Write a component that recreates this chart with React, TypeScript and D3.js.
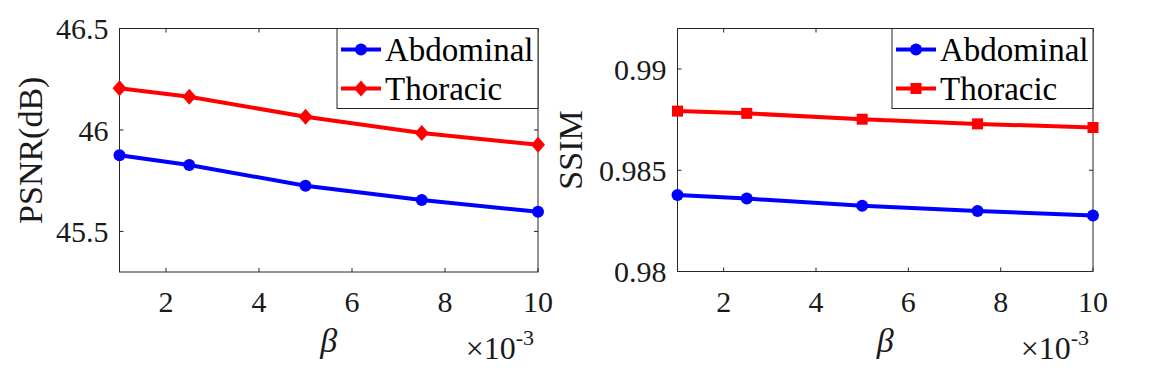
import React, { useEffect, useRef } from "react";
import * as d3 from "d3";

// beta values (x10^-3)
const betaValues = [1, 2.5, 5, 7.5, 10];
const xTicks = [2, 4, 6, 8, 10];

const psnrAbdominal = [45.875, 45.827, 45.725, 45.655, 45.597];
const psnrThoracic = [46.205, 46.164, 46.065, 45.985, 45.927];
const psnrTicks = [45.5, 46, 46.5];

const ssimAbdominal = [0.98378, 0.9836, 0.98325, 0.98299, 0.98276];
const ssimThoracic = [0.98792, 0.98781, 0.98752, 0.98729, 0.98711];
const ssimTicks = [0.98, 0.985, 0.99];

const seriesNames = ["Abdominal", "Thoracic"];

const FONT = "'Liberation Serif', 'Times New Roman', serif";
const AXIS_COLOR = "#262626";

type Panel = {
  left: number;
  right: number;
  top: number;
  bottom: number;
  yDomain: [number, number];
  yTicks: number[];
  yLabel: string;
  yLabelX: number;
  abdominal: number[];
  thoracic: number[];
  thoracicMarker: "diamond" | "square";
};

const panels: Panel[] = [
  {
    left: 119.5,
    right: 538,
    top: 28.5,
    bottom: 272,
    yDomain: [45.3, 46.5],
    yTicks: psnrTicks,
    yLabel: "PSNR(dB)",
    yLabelX: 42,
    abdominal: psnrAbdominal,
    thoracic: psnrThoracic,
    thoracicMarker: "diamond",
  },
  {
    left: 677.5,
    right: 1093,
    top: 28.5,
    bottom: 271.5,
    yDomain: [0.98, 0.992],
    yTicks: ssimTicks,
    yLabel: "SSIM",
    yLabelX: 582,
    abdominal: ssimAbdominal,
    thoracic: ssimThoracic,
    thoracicMarker: "square",
  },
];

export default function App() {
  const svgRef = useRef<SVGSVGElement>(null);

  useEffect(() => {
    const svg = d3.select(svgRef.current);
    svg.selectAll("*").remove();
    panels.forEach((p) => drawPanel(svg, p));
  }, []);

  const drawMarker = (g: any, kind: string, x: number, y: number, color: string) => {
    if (kind === "circle") {
      g.append("circle").attr("cx", x).attr("cy", y).attr("r", 6).attr("fill", color);
    } else if (kind === "diamond") {
      g.append("path")
        .attr("d", `M${x},${y - 8}L${x + 7},${y}L${x},${y + 8}L${x - 7},${y}Z`)
        .attr("fill", color);
    } else {
      g.append("rect")
        .attr("x", x - 5.5)
        .attr("y", y - 5.5)
        .attr("width", 11)
        .attr("height", 11)
        .attr("fill", color);
    }
  };

  const drawPanel = (svg: any, p: Panel) => {
    const xScale = d3.scaleLinear().domain([1, 10]).range([p.left, p.right]);
    const yScale = d3.scaleLinear().domain(p.yDomain).range([p.bottom, p.top]);
    const g = svg.append("g");

    // box
    g.append("rect")
      .attr("x", p.left)
      .attr("y", p.top)
      .attr("width", p.right - p.left)
      .attr("height", p.bottom - p.top)
      .attr("fill", "white")
      .attr("stroke", AXIS_COLOR)
      .attr("stroke-width", 1);

    // x ticks (inside, top and bottom)
    xTicks.forEach((t) => {
      const x = xScale(t);
      g.append("line").attr("x1", x).attr("x2", x).attr("y1", p.bottom).attr("y2", p.bottom - 4).attr("stroke", AXIS_COLOR);
      g.append("line").attr("x1", x).attr("x2", x).attr("y1", p.top).attr("y2", p.top + 4).attr("stroke", AXIS_COLOR);
      g.append("text")
        .attr("x", x)
        .attr("y", 312)
        .attr("text-anchor", "middle")
        .attr("font-family", FONT)
        .attr("font-size", 30)
        .attr("fill", "#1a1a1a")
        .text(String(t));
    });

    // y ticks
    p.yTicks.forEach((t) => {
      const y = yScale(t);
      g.append("line").attr("x1", p.left).attr("x2", p.left + 4).attr("y1", y).attr("y2", y).attr("stroke", AXIS_COLOR);
      g.append("line").attr("x1", p.right).attr("x2", p.right - 4).attr("y1", y).attr("y2", y).attr("stroke", AXIS_COLOR);
      g.append("text")
        .attr("x", p.left - 11)
        .attr("y", y)
        .attr("dy", "0.36em")
        .attr("text-anchor", "end")
        .attr("font-family", FONT)
        .attr("font-size", 30)
        .attr("fill", "#1a1a1a")
        .text(String(t));
    });

    // lines
    const series = [
      { values: p.abdominal, color: "#0000ff", marker: "circle" },
      { values: p.thoracic, color: "#ff0000", marker: p.thoracicMarker },
    ];
    series.forEach((s) => {
      const line = d3
        .line<number>()
        .x((_, i) => xScale(betaValues[i]))
        .y((d) => yScale(d));
      g.append("path")
        .attr("d", line(s.values))
        .attr("fill", "none")
        .attr("stroke", s.color)
        .attr("stroke-width", 4);
      s.values.forEach((v, i) => drawMarker(g, s.marker, xScale(betaValues[i]), yScale(v), s.color));
    });

    // legend
    const lgW = 201;
    const lgH = 80;
    const lgX = p.right - lgW;
    const lgY = p.top;
    g.append("rect")
      .attr("x", lgX)
      .attr("y", lgY)
      .attr("width", lgW)
      .attr("height", lgH)
      .attr("fill", "white")
      .attr("stroke", AXIS_COLOR)
      .attr("stroke-width", 1);
    series.forEach((s, i) => {
      const ry = lgY + 21 + i * 39;
      g.append("line")
        .attr("x1", lgX + 4)
        .attr("x2", lgX + 44)
        .attr("y1", ry)
        .attr("y2", ry)
        .attr("stroke", s.color)
        .attr("stroke-width", 4);
      drawMarker(g, s.marker, lgX + 24, ry, s.color);
      g.append("text")
        .attr("x", lgX + 48)
        .attr("y", ry)
        .attr("dy", "0.35em")
        .attr("font-family", FONT)
        .attr("font-size", 33)
        .attr("fill", "#000")
        .text(seriesNames[i]);
    });

    // y label
    const cy = (p.top + p.bottom) / 2;
    g.append("text")
      .attr("transform", `translate(${p.yLabelX},${cy}) rotate(-90)`)
      .attr("text-anchor", "middle")
      .attr("font-family", FONT)
      .attr("font-size", 34)
      .attr("fill", "#1a1a1a")
      .text(p.yLabel);

    // x label
    g.append("text")
      .attr("x", (p.left + p.right) / 2)
      .attr("y", 352)
      .attr("text-anchor", "middle")
      .attr("font-family", FONT)
      .attr("font-style", "italic")
      .attr("font-size", 34)
      .attr("fill", "#1a1a1a")
      .text("β");

    // exponent
    const ex = g
      .append("text")
      .attr("x", p.right - 4)
      .attr("y", 359)
      .attr("text-anchor", "end")
      .attr("font-family", FONT)
      .attr("font-size", 32)
      .attr("fill", "#1a1a1a");
    ex.append("tspan").text("×10");
    ex.append("tspan").attr("font-size", 22).attr("dy", -14).text("-3");
  };

  return (
    <svg
      ref={svgRef}
      width={1152}
      height={370}
      style={{ position: "absolute", left: 0, top: 0, background: "white" }}
    ></svg>
  );
}
